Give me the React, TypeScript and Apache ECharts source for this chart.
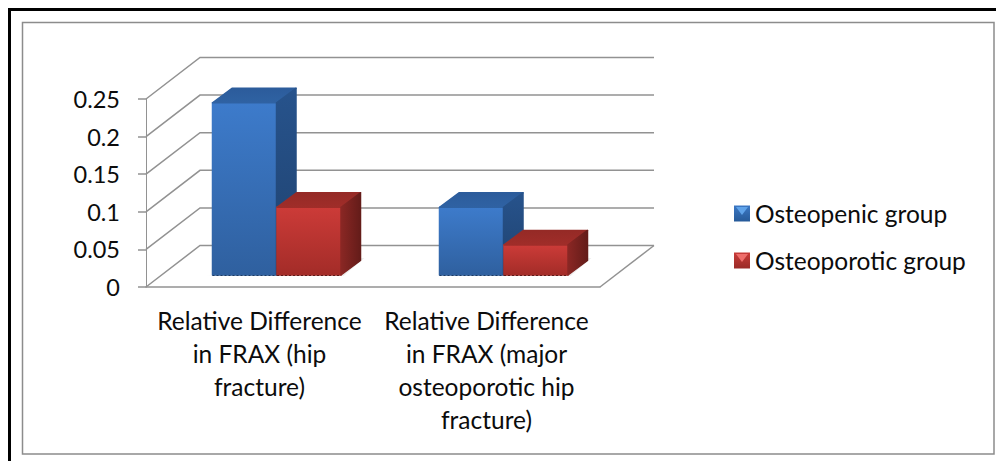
import React, { useEffect, useRef } from "react";
import * as echarts from "echarts";

const categories = [
  "Relative Difference\nin FRAX (hip\nfracture)",
  "Relative Difference\nin FRAX (major\nosteoporotic hip\nfracture)",
];
const osteopenicValues = [0.229, 0.09];
const osteoporoticValues = [0.09, 0.04];
const gridTicks = [0, 0.05, 0.1, 0.15, 0.2, 0.25];

const FONT = "Lato";
const GRAY = "#929292";
const TEXT = "#0c0c0c";
const SIZE = 24.5;
const LG = echarts.graphic.LinearGradient;

const v = (c1: string, c2: string) => new LG(0, 0, 0, 1, [{ offset: 0, color: c1 }, { offset: 1, color: c2 }]);
const h = (c1: string, c2: string) => new LG(0, 0, 1, 0, [{ offset: 0, color: c1 }, { offset: 1, color: c2 }]);

const blue = {
  front: v("#3d7bcb", "#2f609f"),
  top: v("#2c5c9b", "#2f62a3"),
  side: v("#27538c", "#1f426f"),
  edge: "#1c3a63",
};
const red = {
  front: v("#cc3b38", "#a32c28"),
  top: v("#952a26", "#a02d29"),
  side: h("#8a2724", "#641c19"),
  edge: "#5e1a18",
};

function face(points: number[][], fill: any) {
  return {
    type: "polygon",
    shape: { points },
    style: { fill, stroke: fill, lineWidth: 1.5, lineJoin: "round" },
  };
}

function barRenderer(leftOffset: number, look: any, withShadow: boolean) {
  return (_p: any, api: any) => {
    const idx = api.value(0);
    const base = api.coord([idx, 0]);
    const top = api.coord([idx, api.value(1)]);
    const lift = 12;
    const w = 64;
    const dx = 19.5;
    const dy = 14.5;
    const x0 = base[0] + leftOffset;
    const x1 = x0 + w;
    const b = base[1] - lift;
    const t = top[1] - lift;
    const children: any[] = [];
    if (withShadow) {
      // faint floor shadow, running under both bars of the group
      children.push({
        type: "polygon",
        shape: {
          points: [
            [x0 - 7, b + 1],
            [x1 + w + 3, b + 1],
            [x1 + w + 24, b - 17],
            [x1 + w + 19, b - 17],
            [x1 + w, b - 3],
          ],
        },
        style: { fill: "#eeeeee" },
      });
    }
    children.push(
      face([[x0, b], [x1, b], [x1, t], [x0, t]], look.front),
      face([[x0, t], [x1, t], [x1 + dx, t - dy], [x0 + dx, t - dy]], look.top),
      face([[x1, b], [x1 + dx, b - dy], [x1 + dx, t - dy], [x1, t]], look.side),
      {
        type: "line",
        shape: { x1: x0, y1: b + 0.5, x2: x1, y2: b + 0.5 },
        style: { stroke: look.edge, lineWidth: 1, lineDash: [2, 2] },
      }
    );
    return { type: "group", children };
  };
}

function wallRenderer(params: any, api: any) {
  const cs = params.coordSys;
  const p = api.coord([0, api.value(1)]);
  const y = p[1];
  const left = cs.x;
  const right = cs.x + cs.width;
  const dx = 54;
  const dy = 41.5;
  const children: any[] = [
    {
      type: "polyline",
      shape: { points: [[left, y], [left + dx, y - dy], [right + dx, y - dy]] },
      style: { stroke: GRAY, lineWidth: 1.5, fill: "none" },
    },
  ];
  if (api.value(1) === 0) {
    children.push({
      type: "line",
      shape: { x1: right, y1: y, x2: right + dx, y2: y - dy },
      style: { stroke: GRAY, lineWidth: 1.5 },
    });
  }
  return { type: "group", children };
}

export default function App() {
  const ref = useRef<HTMLDivElement>(null);
  useEffect(() => {
    const chart = echarts.init(ref.current!, undefined, { renderer: "svg" });
    chart.setOption({
      animation: false,
      backgroundColor: "#ffffff",
      textStyle: { fontFamily: FONT },
      grid: { left: 146, top: 99, width: 454, height: 188 },
      xAxis: {
        type: "category",
        data: categories,
        axisLine: { lineStyle: { color: GRAY, width: 1.5 } },
        axisTick: { length: 8, lineStyle: { color: GRAY, width: 1.5 } },
        axisLabel: {
          color: TEXT,
          fontFamily: FONT,
          fontSize: SIZE,
          lineHeight: 33,
          margin: 17,
          interval: 0,
        },
        splitLine: { show: false },
      },
      yAxis: {
        type: "value",
        min: 0,
        max: 0.25,
        interval: 0.05,
        axisLine: { show: true, lineStyle: { color: GRAY, width: 1 } },
        axisTick: { show: true, length: 8, lineStyle: { color: GRAY, width: 1.5 } },
        axisLabel: { color: TEXT, fontFamily: FONT, fontSize: 23.5, margin: 26 },
        splitLine: { show: false },
      },
      legend: {
        orient: "vertical",
        left: 734,
        top: 201,
        padding: 0,
        itemWidth: 16,
        itemHeight: 16,
        itemGap: 22,
        icon: "rect",
        data: ["Osteopenic group", "Osteoporotic group"],
        textStyle: { color: TEXT, fontFamily: FONT, fontSize: SIZE },
      },
      graphic: {
        elements: [
          { type: "rect", shape: { x: 8, y: 8, width: 988, height: 3 }, style: { fill: "#000000" } },
          { type: "rect", shape: { x: 8, y: 8, width: 3, height: 453 }, style: { fill: "#000000" } },
          {
            type: "rect",
            shape: { x: 22.5, y: 22.5, width: 971.5, height: 431.5 },
            style: { fill: "none", stroke: "#8c8c8c", lineWidth: 1.5 },
          },
          {
            type: "polygon",
            z: 100,
            shape: { points: [[736, 207], [748, 207], [742, 215]] },
            style: { fill: "#5fa3ea" },
          },
          {
            type: "polygon",
            z: 100,
            shape: { points: [[736, 254], [748, 254], [742, 262]] },
            style: { fill: "#ee6e6b" },
          },
        ],
      },
      series: [
        {
          type: "custom",
          name: "walls",
          silent: true,
          renderItem: wallRenderer,
          encode: { x: 0, y: 1 },
          data: gridTicks.map((t) => [0, t]),
          z: 1,
        },
        {
          type: "custom",
          name: "Osteopenic group",
          renderItem: barRenderer(-47, blue, true),
          encode: { x: 0, y: 1 },
          data: osteopenicValues.map((val, i) => [i, val]),
          itemStyle: { color: v("#3c78c4", "#265a99") },
          z: 2,
        },
        {
          type: "custom",
          name: "Osteoporotic group",
          renderItem: barRenderer(17.5, red, false),
          encode: { x: 0, y: 1 },
          data: osteoporoticValues.map((val, i) => [i, val]),
          itemStyle: { color: v("#c93c39", "#9a2a27") },
          z: 3,
        },
      ],
    });
    return () => chart.dispose();
  }, []);
  return <div ref={ref} style={{ position: "fixed", left: 0, top: 0, width: 996, height: 461 }} />;
}
